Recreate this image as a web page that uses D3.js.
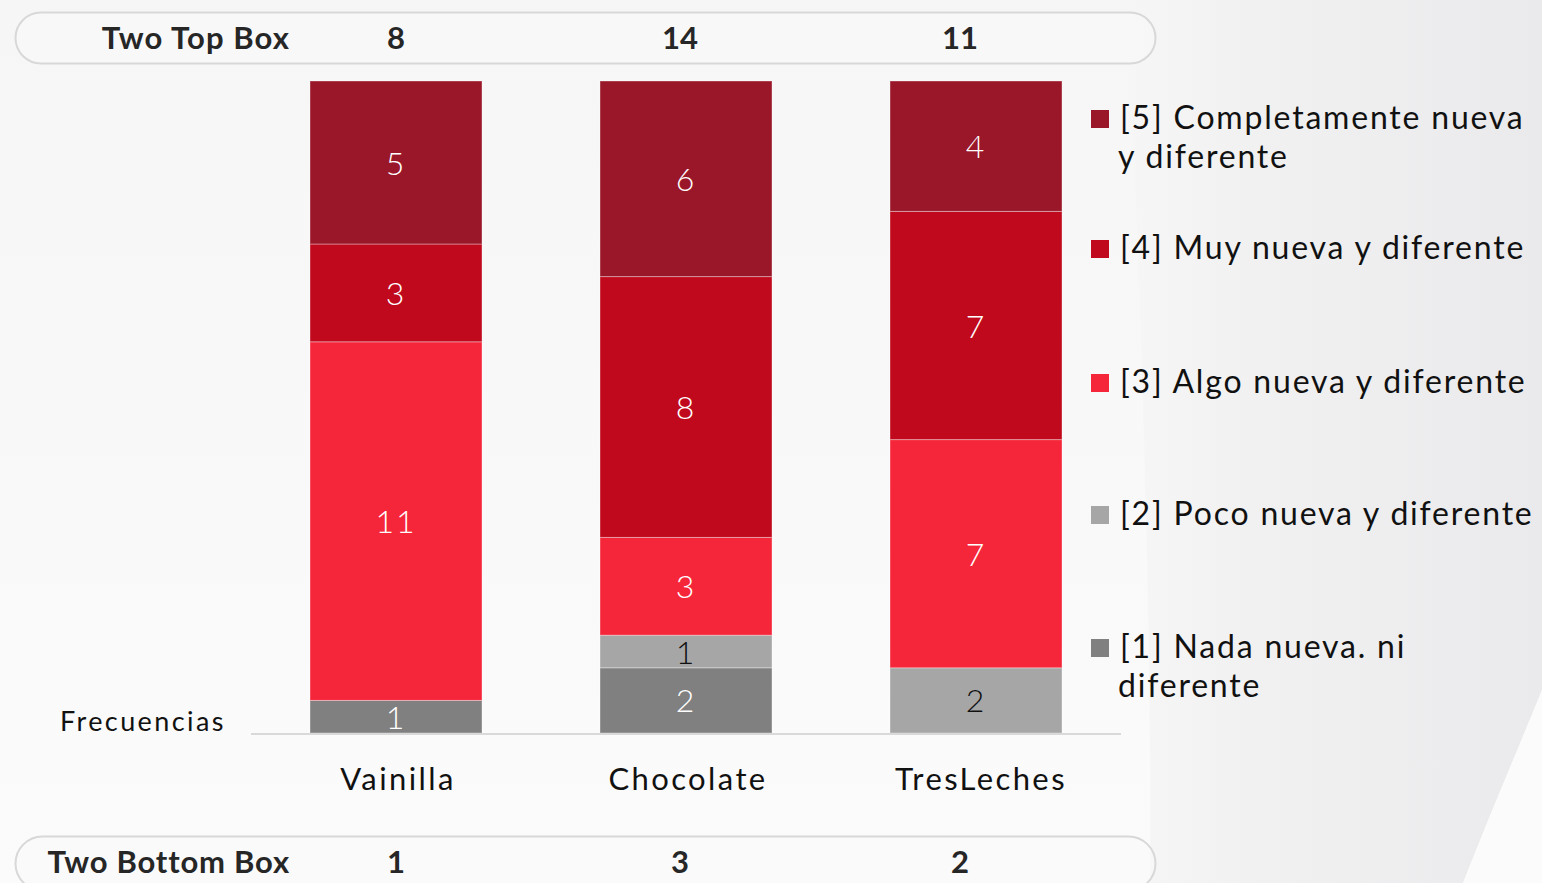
<!DOCTYPE html>
<html><head><meta charset="utf-8">
<script src="https://cdn.jsdelivr.net/npm/d3@7"></script>
<style>html,body{margin:0;padding:0;background:#f8f8f8;overflow:hidden}</style>
</head><body>
<svg id="c" width="1542" height="883"></svg>
<script>
const categories = ["Vainilla", "Chocolate", "TresLeches"];
const seriesKeys = ["s1", "s2", "s3", "s4", "s5"];
const seriesNames = ["[1] Nada nueva. ni\ndiferente", "[2] Poco nueva y diferente", "[3] Algo nueva y diferente", "[4] Muy nueva y diferente", "[5] Completamente nueva\ny diferente"];
const s1 = [1, 2, 0];
const s2 = [0, 1, 2];
const s3 = [11, 3, 7];
const s4 = [3, 8, 7];
const s5 = [5, 6, 4];
const twoTopBox = [8, 14, 11];
const twoBottomBox = [1, 3, 2];
const colors = ["#808080", "#a6a6a6", "#f5263a", "#c0091d", "#9a1729"];
const labelColors = ["#ffffff", "#111111", "#ffffff", "#ffffff", "#ffffff"];

const FONT = "Lato, 'Noto Sans', sans-serif";
const svg = d3.select("#c");

// background
const defs = svg.append("defs");
const g1 = defs.append("linearGradient").attr("id","bandG").attr("x1","0").attr("x2","1").attr("y1","0").attr("y2","0");
g1.append("stop").attr("offset","0").attr("stop-color","#f6f6f7");
g1.append("stop").attr("offset","0.3").attr("stop-color","#f1f1f2");
g1.append("stop").attr("offset","1").attr("stop-color","#eaeaec");
const g0 = defs.append("linearGradient").attr("id","baseG").attr("x1","0").attr("x2","0").attr("y1","0").attr("y2","1");
g0.append("stop").attr("offset","0").attr("stop-color","#f6f6f7");
g0.append("stop").attr("offset","1").attr("stop-color","#fbfbfb");
svg.append("rect").attr("width",1542).attr("height",883).attr("fill","url(#baseG)");
svg.append("path").attr("d","M1128,0 C1140,300 1152,600 1150,883 L1463,883 C1500,790 1528,725 1542,690 L1542,0 Z").attr("fill","url(#bandG)");
svg.append("path").attr("d","M1463,883 C1500,790 1528,725 1542,690 L1542,883 Z").attr("fill","#fbfbfb");

// scales
const x = d3.scaleBand().domain(categories).range([251, 1121]).paddingInner(0.407).paddingOuter(0.2035);
const y = d3.scaleLinear().domain([0, 20]).range([733, 81]);

const rows = categories.map((c, i) => ({cat: c, s1: s1[i], s2: s2[i], s3: s3[i], s4: s4[i], s5: s5[i]}));
const stacked = d3.stack().keys(seriesKeys)(rows);

// header/footer boxes
function box(yTop, h){
  svg.append("rect").attr("x",15.5).attr("y",yTop).attr("width",1140).attr("height",h).attr("rx",h/2)
    .attr("fill","rgba(250,250,250,0.5)").attr("stroke","#d8d8d8").attr("stroke-width",2);
}
box(12.5, 51);
box(836.5, 54);

const valX = [396, 680, 960];
svg.append("text").attr("x",290).attr("y",49).attr("text-anchor","end").attr("font-family",FONT)
  .attr("font-weight","bold").attr("font-size",31).attr("fill","#262626").style("letter-spacing","1.1px").text("Two Top Box");
svg.selectAll(".ttb").data(twoTopBox).join("text").attr("x",(d,i)=>valX[i]).attr("y",49)
  .attr("text-anchor","middle").attr("font-family",FONT).attr("font-weight","bold").attr("font-size",31).attr("fill","#262626").text(d=>d);
svg.append("text").attr("x",290).attr("y",873).attr("text-anchor","end").attr("font-family",FONT)
  .attr("font-weight","bold").attr("font-size",31).attr("fill","#262626").style("letter-spacing","0.8px").text("Two Bottom  Box");
svg.selectAll(".tbb").data(twoBottomBox).join("text").attr("x",(d,i)=>valX[i]).attr("y",873)
  .attr("text-anchor","middle").attr("font-family",FONT).attr("font-weight","bold").attr("font-size",31).attr("fill","#262626").text(d=>d);

// bars
const layers = svg.append("g").selectAll("g").data(stacked).join("g").attr("fill",(d,i)=>colors[i]);
layers.selectAll("rect").data(d=>d.filter(p=>p[1]>p[0])).join("rect")
  .attr("x",d=>x(d.data.cat)).attr("width",x.bandwidth())
  .attr("y",d=>y(d[1])).attr("height",d=>y(d[0])-y(d[1]))
  .attr("stroke","rgba(255,255,255,0.35)").attr("stroke-width",1);

// segment labels
stacked.forEach((layer, li) => {
  svg.append("g").selectAll("text").data(layer.filter(p=>p[1]>p[0])).join("text")
    .attr("x",d=>x(d.data.cat)+x.bandwidth()/2)
    .attr("y",d=>(y(d[0])+y(d[1]))/2 + 12)
    .attr("text-anchor","middle").attr("font-family",FONT).attr("font-weight",300).attr("font-size",32)
    .style("letter-spacing","2px")
    .attr("fill",labelColors[li]).text(d=>d[1]-d[0]);
});

// axis
const xAxis = svg.append("g").attr("transform","translate(0,734)").call(d3.axisBottom(x).tickSize(0).tickPadding(0));
xAxis.select(".domain").attr("stroke","#d9d9d9").attr("stroke-width",2).attr("d","M251,0H1121");
xAxis.selectAll(".tick text").attr("font-family",FONT).attr("font-weight",400).attr("font-size",31).attr("fill","#111111")
  .attr("dy",0).attr("y",56).attr("dx",(d,i)=>[2,2,5][i]).style("letter-spacing","2.4px");

svg.append("text").attr("x",60).attr("y",731).attr("font-family",FONT).attr("font-weight",400).attr("font-size",27).attr("fill","#111111")
  .style("letter-spacing","2.4px").text("Frecuencias");

// legend
const legTops = [639, 506, 374, 240, 110];
const leg = svg.append("g");
seriesNames.forEach((name, i) => {
  const top = legTops[i];
  leg.append("rect").attr("x",1091).attr("y",top).attr("width",18).attr("height",18).attr("fill",colors[i]);
  const lines = name.split("\n");
  const t = leg.append("text").attr("font-family",FONT).attr("font-weight",400).attr("font-size",32).attr("fill","#111111").style("letter-spacing","1.8px");
  lines.forEach((ln, j) => {
    t.append("tspan").attr("x", j===0 ? 1120 : 1118).attr("y", top + 19 + j*39).text(ln);
  });
});
</script>
</body></html>
